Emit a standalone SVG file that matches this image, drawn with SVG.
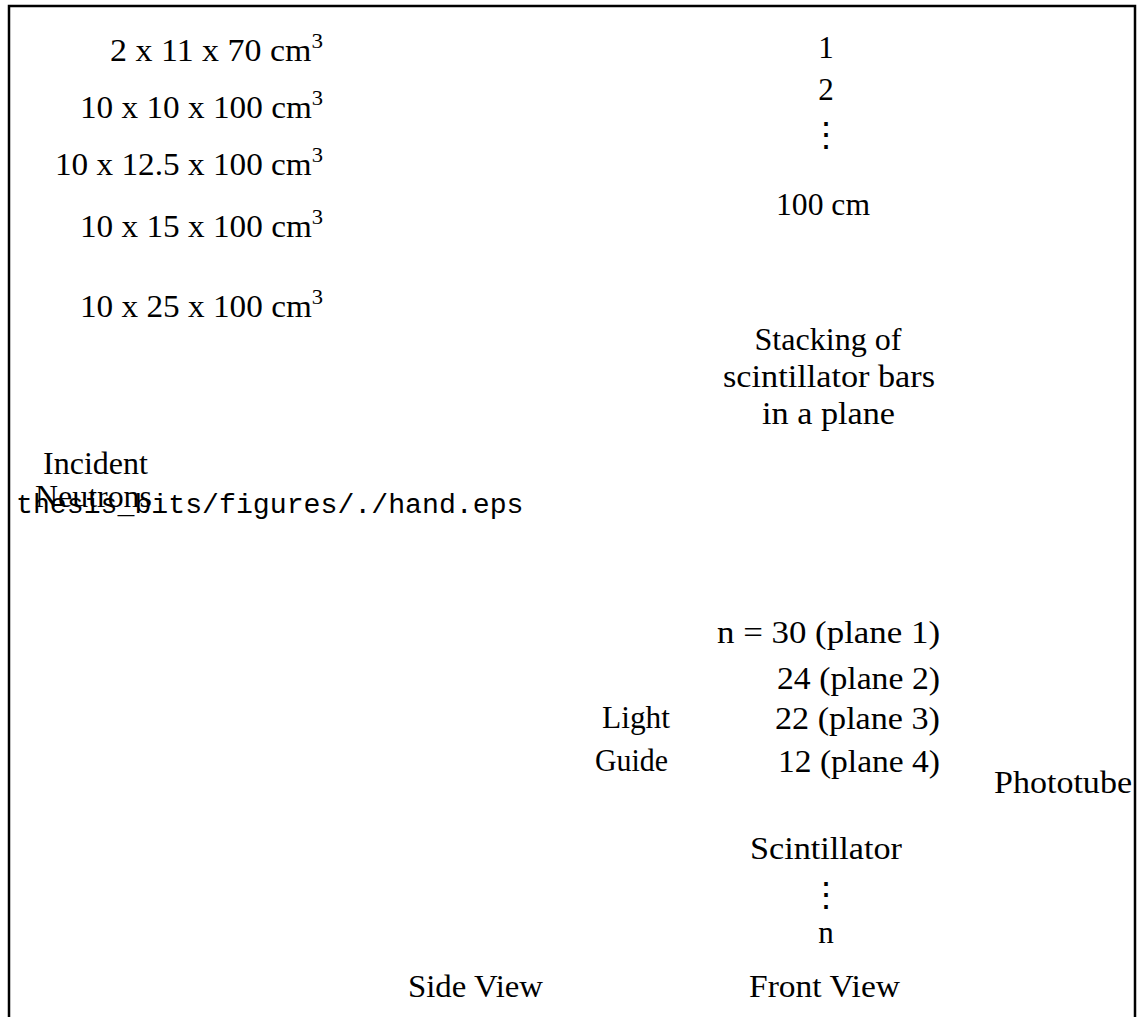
<svg xmlns="http://www.w3.org/2000/svg" width="1140" height="1017" viewBox="0 0 1140 1017">
<style>
.t{font-family:"Liberation Serif","DejaVu Serif",serif;font-size:31px;fill:#000}
.c{text-anchor:middle}
.e{text-anchor:end}
.m{font-family:"Liberation Mono","DejaVu Sans Mono",monospace;font-size:28.2px;fill:#000}
.d{font-family:"DejaVu Serif",serif;font-size:34px;fill:#000;text-anchor:middle}
.sup{font-size:21px}
</style>
<rect width="1140" height="1017" fill="#fff"/>
<g id="frame" fill="none" stroke="#000" stroke-width="2.5">
<path d="M9,1017 V6 H1135 V1017"/>
</g>
<g id="sizes">
<text class="t e" x="323" y="61" textLength="213" lengthAdjust="spacingAndGlyphs">2 x 11 x 70 cm<tspan class="sup" dy="-13">3</tspan></text>
<text class="t e" x="323" y="118" textLength="243" lengthAdjust="spacingAndGlyphs">10 x 10 x 100 cm<tspan class="sup" dy="-13">3</tspan></text>
<text class="t e" x="323" y="175" textLength="268" lengthAdjust="spacingAndGlyphs">10 x 12.5 x 100 cm<tspan class="sup" dy="-13">3</tspan></text>
<text class="t e" x="323" y="237" textLength="243" lengthAdjust="spacingAndGlyphs">10 x 15 x 100 cm<tspan class="sup" dy="-13">3</tspan></text>
<text class="t e" x="323" y="317" textLength="243" lengthAdjust="spacingAndGlyphs">10 x 25 x 100 cm<tspan class="sup" dy="-13">3</tspan></text>
</g>
<g id="stack">
<text class="t c" x="826" y="58">1</text>
<text class="t c" x="826" y="100">2</text>
<text class="d" x="826" y="146">⋮</text>
<text class="t c" x="823" y="215" textLength="94" lengthAdjust="spacingAndGlyphs">100 cm</text>
<text class="t c" x="828" y="350" textLength="147" lengthAdjust="spacingAndGlyphs">Stacking of</text>
<text class="t c" x="829" y="387" textLength="212" lengthAdjust="spacingAndGlyphs">scintillator bars</text>
<text class="t c" x="828.5" y="424" textLength="133" lengthAdjust="spacingAndGlyphs">in a plane</text>
</g>
<g id="incident">
<text class="t" x="43" y="474" textLength="105" lengthAdjust="spacingAndGlyphs">Incident</text>
<text class="t" x="35" y="507" textLength="117" lengthAdjust="spacingAndGlyphs">Neutrons</text>
</g>
<g id="missing-figure">
<text class="m" x="16" y="513">thesis_bits/figures/./hand.eps</text>
</g>
<g id="planes">
<text class="t e" x="940" y="643" textLength="223" lengthAdjust="spacingAndGlyphs">n = 30 (plane 1)</text>
<text class="t e" x="940" y="689" textLength="163" lengthAdjust="spacingAndGlyphs">24 (plane 2)</text>
<text class="t e" x="940" y="729" textLength="165" lengthAdjust="spacingAndGlyphs">22 (plane 3)</text>
<text class="t e" x="940" y="772" textLength="162" lengthAdjust="spacingAndGlyphs">12 (plane 4)</text>
</g>
<g id="lightguide">
<text class="t" x="602" y="728" textLength="68" lengthAdjust="spacingAndGlyphs">Light</text>
<text class="t" x="595" y="771" textLength="73" lengthAdjust="spacingAndGlyphs">Guide</text>
</g>
<g id="phototube">
<text class="t" x="994" y="793" textLength="138" lengthAdjust="spacingAndGlyphs">Phototube</text>
</g>
<g id="scint">
<text class="t" x="750" y="859" textLength="152" lengthAdjust="spacingAndGlyphs">Scintillator</text>
<text class="d" x="826" y="906">⋮</text>
<text class="t c" x="826" y="943">n</text>
</g>
<g id="views">
<text class="t" x="408" y="997" textLength="135" lengthAdjust="spacingAndGlyphs">Side View</text>
<text class="t" x="749" y="997" textLength="151" lengthAdjust="spacingAndGlyphs">Front View</text>
</g>
</svg>
